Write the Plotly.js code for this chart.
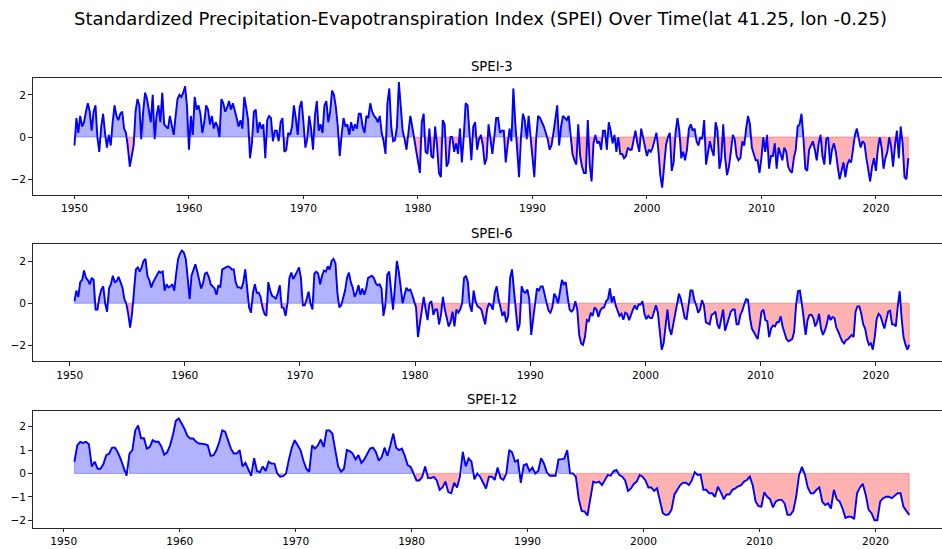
<!DOCTYPE html>
<html>
<head>
<meta charset="utf-8">
<script src="https://cdn.plot.ly/plotly-3.0.1.min.js"></script>
<style>
html,body{margin:0;padding:0;overflow:hidden;background:#fff;}
#chart{width:960px;height:549px;}
</style>
</head>
<body>
<div id="chart"></div>
<script>
// ---------------- DATA ----------------
// SPEI-3: one reading every 2 months, starting Jan 1950
const spei3Start = 1950 + 0 / 12;
const spei3StepMonths = 2;
const spei3 = [
  -0.4, 0.9, 0.2, 1.0, 0.5, 0.7,
  1.2, 1.6, 1.2, 0.3, 1.2, 1.5,
  0.0, -0.7, 0.5, 1.1, 0.2, -0.5,
  0.1, -0.4, 0.7, 1.5, 1.0, 0.8,
  1.1, 1.2, 0.4, 0.2, -0.5, -1.4,
  -0.9, -0.4, 1.2, 1.8, 1.5, -0.1,
  1.2, 2.1, 1.8, 1.3, 0.7, 2.0,
  -0.1, 1.0, 1.5, 0.7, 2.1, 0.6,
  0.5, 0.4, 1.0, 0.6, 0.1, 1.0,
  1.8, 2.0, 1.9, 2.1, 2.4, 1.4,
  -0.6, 1.0, 0.1, 1.9, 1.3, 1.5,
  1.1, 0.2, 0.7, 1.5, 1.3, 0.6,
  1.0, 0.4, 0.7, 0.5, 0.0, 1.8,
  1.6, 1.2, 1.4, 1.7, 1.3, 1.6,
  1.3, 0.9, 0.5, 0.8, 0.4, 1.9,
  1.4, 0.8, -1.0, -0.3, 1.2, 1.3,
  0.2, 0.7, 0.4, 0.6, -1.0, 0.8,
  1.0, 0.9, -0.2, 0.3, 0.3, -0.2,
  0.7, 0.9, -0.7, -0.6, 0.2, 0.1,
  0.5, 1.5, 0.9, 0.1, 1.4, 1.7,
  0.7, -0.5, -0.1, 1.0, 0.4, -0.6,
  1.0, 1.7, 0.3, 0.6, 0.2, 1.5,
  1.7, 0.7, 1.2, 2.2, 2.0, 1.4,
  0.5, -0.9, 0.1, 0.9, 0.5, 0.6,
  0.1, 0.7, 0.3, 0.6, 0.4, 1.1,
  1.1, 0.5, 0.2, 1.0, 0.9, 1.6,
  1.2, 1.0, 0.9, 0.7, 1.0, 0.2,
  -0.2, -0.8, 1.6, 2.3, 0.5, -0.2,
  -0.15, 0.5, 2.6, 1.4, 0.3, -0.1,
  -0.6, 0.2, 1.0, 0.5, -0.1, -0.7,
  -1.2, -1.7, 0.7, 1.1, -0.7, -0.8,
  0.4, -0.9, -1.0, 0.5, -0.4, -1.7,
  -1.9, 0.8, 0.6, -1.4, -1.2, 0.0,
  0.0, -0.7, -0.3, -0.8, 0.4, -1.2,
  0.0, 1.6, 1.5, 0.2, -1.1, 0.5,
  0.7, -0.6, -0.1, 0.1, -0.4, -1.3,
  -1.0, 0.6, -0.1, -0.8, 0.0, 0.9,
  0.9, 0.2, 0.3, 0.3, -1.2, -0.3,
  0.4, -0.2, 2.3, 0.7, -0.8, -1.9,
  0.0, 1.1, 0.8, -0.1, 1.0, -0.1,
  -0.8, -1.9, 0.0, 1.0, 0.9, 0.7,
  0.5, 0.2, -0.1, -0.6, -0.4, 0.2,
  0.8, 1.5, -0.4, 0.5, 1.0, 0.9,
  0.8, 1.0, -0.1, -0.8, -1.1, -1.3,
  0.6, -0.9, -1.4, -1.7, -1.7, 0.8,
  -1.3, -2.1, -0.3, 0.1, -0.3, -0.2,
  -0.6, 0.3, 0.3, -0.6, 0.7, 0.3,
  -0.3, 0.1, -0.7, 0.0, -0.8, -0.8,
  -1.0, -0.9, -0.5, -0.6, -0.6, -0.2,
  0.3, -0.3, -0.7, 0.4, -0.1, -0.4,
  -0.9, -0.6, -0.7, -0.5, -0.2, 0.2,
  -0.6, -1.8, -2.4, -1.3, -0.4, 0.0,
  0.2, -1.6, -1.2, 0.2, 0.9, 0.3,
  -1.0, -0.7, -1.1, -0.6, 0.4, 0.6,
  0.3, 0.4, -0.2, -0.4, 0.0, -0.1,
  0.8, -1.3, -0.8, -0.2, -0.6, -0.9,
  0.7, 0.3, -1.5, -1.0, 0.6, -1.0,
  -1.8, -1.4, -0.7, 0.1, -0.1, -0.9,
  -1.1, -1.0, -0.2, -0.4, 0.4, 1.0,
  0.6, -0.5, -0.8, -1.1, -1.1, -1.7,
  -1.0, 0.0, -0.7, 0.1, -1.5, -0.9,
  -0.9, -0.3, -1.5, -0.5, -0.8, -1.1,
  -0.5, -0.7, -1.4, -1.6, -1.7, -1.0,
  -0.6, 0.5, 0.6, 1.1, 0.0, -1.5,
  -1.6, -0.6, -0.4, -0.2, -0.6, -1.1,
  -0.3, 0.1, -0.9, -1.3, -0.1, 0.0,
  -1.3, -0.6, -0.3, -0.7, -1.4, -2.0,
  -1.6, -1.2, -1.9, -1.3, -1.1, -1.2,
  -0.6, 0.1, 0.4, 0.0, -0.5, -0.2,
  -0.3, -1.0, -1.5, -2.1, -1.4, -1.0,
  -1.6, -0.6, 0.0, -0.5, -1.5, -1.0,
  -0.7, 0.0, -0.5, -1.4, -0.4, 0.3,
  -1.0, 0.5, -0.3, -1.9, -2.0, -1.0
];

// SPEI-6: one reading every 2 months, starting Jun 1950
const spei6Start = 1950 + 5 / 12;
const spei6StepMonths = 2;
const spei6 = [
  0.1, 0.6, 0.3, 1.0,
  1.1, 1.55, 1.2, 1.1, 0.9, 1.2,
  1.1, -0.3, -0.3, 0.3, 0.65, 0.8,
  0.0, -0.4, 0.7, 0.9, 1.3, 1.0,
  1.05, 1.25, 1.0, 0.75, 0.2, 0.0,
  -0.5, -1.15, -0.5, 0.8, 1.6, 1.7,
  1.5, 1.7, 2.0, 2.1, 1.3, 1.1,
  0.75, 1.0, 1.15, 1.3, 1.5, 1.45,
  1.5, 0.6, 0.9, 0.75, 0.8, 0.9,
  0.6, 1.4, 2.1, 2.35, 2.5, 2.4,
  2.1, 1.2, 0.2, 1.3, 1.55, 1.85,
  1.5, 1.1, 0.7, 0.95, 1.4, 1.45,
  1.25, 0.9, 0.8, 0.7, 0.4, 0.85,
  0.75, 1.6, 1.65, 1.7, 1.75, 1.7,
  1.6, 1.6, 1.0, 0.75, 0.75, 0.7,
  1.0, 1.6, 0.75, -0.2, -0.45, 0.5,
  0.9, 0.5, 0.5, 0.3, -0.2, -0.5,
  -0.6, 1.0, 0.6, 0.35, 0.3, 0.2,
  0.5, 0.85, -0.2, -0.22, -0.6, 0.0,
  1.2, 1.45, 1.15, 1.3, 1.5, 1.7,
  1.2, -0.1, -0.1, 0.2, 0.55, 0.0,
  -0.3, 1.4, 1.5, 1.4, 0.9, 1.3,
  1.55, 1.5, 1.75, 1.6, 2.0, 2.1,
  1.9, 0.5, -0.2, -0.1, 0.2, 0.6,
  1.2, 1.45, 1.0, 0.75, 0.3, 0.5,
  0.85, 0.4, 0.7, 0.4, 0.7, 1.2,
  1.25, 1.3, 1.2, 0.95, 0.85, 0.9,
  0.7, -0.6, -0.1, 1.35, 1.5, 0.5,
  -0.3, 0.8, 2.0, 1.5, 0.8, 0.0,
  0.4, 0.73, 0.6, 0.65, 0.4, 0.1,
  -0.2, -1.6, -1.0, -0.2, 0.3, -0.3,
  -0.8, 0.0, 0.1, -0.55, -0.3, -0.3,
  -1.0, -0.55, 0.3, -0.3, -0.65, -1.1,
  -0.9, -0.4, -1.1, -0.3, -0.45, -0.3,
  0.0, 1.2, 1.3, 1.0, -0.1, -0.4,
  0.6, 0.1, -0.15, -0.2, -0.3, -0.7,
  -1.0, -0.3, 0.0, -0.1, -0.3, 0.5,
  0.8, 0.2, -0.3, -0.6, -0.4, -0.9,
  -0.6, 1.2, 1.6, 0.6, -0.2, -1.3,
  -1.0, 0.8, 0.55, 0.5, 0.65, 0.2,
  -1.5, -0.8, 0.0, 0.7, 0.6, 0.8,
  0.8, 0.4, 0.0, -0.35, -0.45, -0.2,
  0.45, 0.3, 0.0, 0.6, 1.1, 0.9,
  1.0, 0.3, -0.3, -0.4, -0.3, 0.1,
  -0.3, -1.5, -1.9, -1.97, -1.6, -0.8,
  -0.85, -0.45, -0.6, -0.2, -0.3, -0.65,
  -0.35, -0.22, -0.2, 0.1, 0.2, 0.7,
  0.05, 0.33, -0.1, -0.35, -0.6, -0.5,
  -0.78, -0.45, -0.5, -0.8, -0.5, -0.3,
  -0.1, -0.3, -0.05, -0.06, 0.1, -0.5,
  -0.75, -0.6, -0.7, -0.7, -0.4, -0.1,
  -0.45, -1.4, -2.2, -1.9, -1.2, -0.3,
  -1.2, -1.5, -1.0, -0.5, 0.0, 0.45,
  0.2, -0.35, -0.7, -0.75, 0.0, 0.6,
  0.6, 0.15, -0.1, -0.45, -0.3, 0.15,
  -0.1, -0.9, -0.95, -1.0, -0.55, -0.5,
  -0.4, -1.0, -1.2, -0.7, -0.3, -1.3,
  -1.0, -0.6, -0.4, -0.3, -0.3, -1.0,
  -1.0, -0.55, -0.35, -0.05, 0.2, 0.15,
  -0.7, -1.2, -1.35, -1.5, -1.7, -1.1,
  -0.4, -0.3, -0.8, -0.85, -1.6, -1.2,
  -1.05, -1.1, -0.9, -0.9, -0.62, -1.1,
  -1.4, -1.7, -1.8, -1.75, -1.7, -1.35,
  -0.1, 0.57, 0.6, 0.0, -0.9, -1.5,
  -0.8, -0.55, -0.54, -0.7, -1.1, -0.9,
  -0.5, -1.2, -1.5, -1.3, -1.0, -0.55,
  -0.8, -0.65, -0.7, -1.15, -1.35, -1.6,
  -1.8, -1.9, -1.75, -1.7, -1.6, -1.5,
  -1.6, -0.4, -0.15, -0.15, -0.5, -1.0,
  -1.2, -1.7, -1.97, -1.9, -2.2, -1.6,
  -0.75, -0.5, -0.6, -0.9, -1.2, -0.8,
  -0.4, -0.35, -1.0, -1.0, -1.1, -0.15,
  0.57, -0.7, -1.6, -1.95, -2.2, -1.97
];

// SPEI-12: one reading every 3 months, starting Dec 1950
const spei12Start = 1950 + 11 / 12;
const spei12StepMonths = 3;
const spei12 = [
  0.5,
  1.2, 1.35, 1.3, 1.35,
  1.25, 0.3, 0.5, 0.2,
  0.2, 0.4, 0.78, 0.85,
  1.1, 1.1, 0.9, 0.6,
  0.2, -0.1, 0.85, 1.0,
  1.84, 2.05, 1.5, 1.5,
  1.06, 1.13, 1.42, 1.35,
  1.35, 1.15, 0.8, 0.9,
  1.2, 1.65, 2.25, 2.35,
  2.13, 1.9, 1.6, 1.49,
  1.49, 1.35, 1.28, 1.28,
  1.25, 1.2, 0.75, 0.78,
  1.0, 1.35, 1.84, 1.78,
  1.4, 1.06, 0.85, 0.85,
  1.0, 0.3, 0.45, 0.15,
  -0.1, 0.65, 0.1, 0.05,
  0.3, 0.1, 0.5, 0.42,
  0.42, 0.0, -0.14, -0.12,
  0.0, 0.6, 1.1, 1.42,
  1.2, 1.0, 0.55, 0.2,
  0.07, 1.2, 1.06, 1.2,
  1.45, 1.13, 1.84, 1.84,
  1.7, 1.0, 0.3, 0.07,
  0.2, 1.0, 0.95, 0.85,
  0.6, 0.78, 0.45, 0.6,
  0.85, 1.06, 1.1, 0.92,
  0.55, 0.7, 1.1, 0.75,
  1.2, 1.7, 1.1, 1.0,
  1.06, 0.75, 0.35, 0.28,
  0.0, -0.3, -0.3, -0.15,
  0.3, -0.2, -0.2, -0.15,
  -0.3, -0.7, -0.6, -0.35,
  -0.8, -0.85, -0.4, -0.6,
  -0.14, 0.92, 0.3, 0.64,
  0.5, -0.25, 0.0, -0.15,
  -0.4, -0.65, -0.14, -0.14,
  -0.28, 0.25, -0.2, -0.28,
  0.0, 1.0, 0.9, 0.5,
  0.57, -0.4, 0.35, 0.4,
  0.1, 0.25, 0.0, 0.1,
  0.65, 0.42, 0.05, -0.1,
  -0.1, -0.1, 0.6, 0.6,
  0.64, 1.0, 0.0, 0.0,
  -0.15, -1.1, -1.6, -1.63,
  -1.8, -1.05, -0.35, -0.4,
  -0.35, -0.5, -0.28, -0.07,
  -0.1, 0.1, 0.15, -0.07,
  -0.14, -0.3, -0.75, -0.64,
  -0.45, -0.35, -0.07, -0.14,
  -0.3, -0.6, -0.6, -0.75,
  -0.64, -1.15, -1.7, -1.78,
  -1.75, -1.55, -0.9, -0.7,
  -0.5, -0.4, -0.4, -0.5,
  -0.3, 0.05, -0.07, -0.05,
  -0.7, -0.7, -0.85, -0.85,
  -1.0, -0.57, -0.8, -1.1,
  -0.9, -0.9, -0.7, -0.64,
  -0.55, -0.5, -0.35, -0.28,
  -0.14, -0.5, -1.2, -1.4,
  -1.42, -0.8, -1.0, -1.1,
  -1.45, -1.2, -1.13, -1.13,
  -1.28, -1.77, -1.77, -1.6,
  -1.0, -0.07, 0.28, -0.05,
  -0.6, -0.85, -0.85, -0.7,
  -0.6, -1.2, -1.35, -1.28,
  -1.5, -0.7, -1.1, -1.2,
  -1.5, -1.9, -1.85, -1.85,
  -1.95, -0.85, -0.6, -0.45,
  -0.92, -1.56, -1.7, -2.0,
  -2.0, -1.2, -1.06, -1.0,
  -1.0, -1.06, -0.95, -0.85,
  -0.85, -1.42, -1.6, -1.77
];

const panelTitles = ['SPEI-3', 'SPEI-6', 'SPEI-12'];
const xTickYears = [1950, 1960, 1970, 1980, 1990, 2000, 2010, 2020];
const yTicksPanel12 = [-2, 0, 2];
const yTicksPanel3 = [-2, -1, 0, 1, 2];
const mainTitle = 'Standardized Precipitation-Evapotranspiration Index (SPEI) Over Time(lat 41.25, lon -0.25)';

// ---------------- BUILD ----------------
function timeAxis(start, stepMonths, n) {
  const t = [];
  for (let i = 0; i < n; i++) t.push(start + i * stepMonths / 12);
  return t;
}

// polygons like matplotlib fill_between(where=...): one closed shape per contiguous run
function runPolygons(t, v, test) {
  const xs = [], ys = [];
  let i = 0;
  while (i < v.length) {
    if (!test(v[i])) { i++; continue; }
    let j = i;
    while (j + 1 < v.length && test(v[j + 1])) j++;
    xs.push(t[i]); ys.push(0);
    for (let k = i; k <= j; k++) { xs.push(t[k]); ys.push(v[k]); }
    xs.push(t[j]); ys.push(0);
    xs.push(t[i]); ys.push(0);
    xs.push(null); ys.push(null);
    i = j + 1;
  }
  return { xs, ys };
}

const W = 960, H = 549;
const axLeft = 32.7 / W, axRight = 951 / W;
function yDom(top, bottom) { return [1 - bottom / H, 1 - top / H]; }

const panels = [
  { v: spei3, start: spei3Start, step: spei3StepMonths, xr: [1946.35, 2026.56], yr: [-2.73, 2.81], dom: yDom(77.7, 194.7), yt: yTicksPanel12, titleY: 66 },
  { v: spei6, start: spei6Start, step: spei6StepMonths, xr: [1946.79, 2026.54], yr: [-2.75, 2.82], dom: yDom(243.7, 361.3), yt: yTicksPanel12, titleY: 233 },
  { v: spei12, start: spei12Start, step: spei12StepMonths, xr: [1947.32, 2026.52], yr: [-2.32, 2.68], dom: yDom(410.7, 527.7), yt: yTicksPanel3, titleY: 399 }
];

const tickFont = { family: 'DejaVu Sans, sans-serif', size: 10.6, color: '#000' };
const axisBase = {
  showline: true, mirror: true, linecolor: '#000', linewidth: 0.85,
  ticks: 'outside', ticklen: 3.7, tickwidth: 0.85, tickcolor: '#000',
  showgrid: false, zeroline: false, tickfont: tickFont, fixedrange: true
};

const traces = [];
const layout = {
  width: W, height: H,
  margin: { l: 0, r: 0, t: 0, b: 0, pad: 0 },
  paper_bgcolor: '#fff', plot_bgcolor: '#fff',
  showlegend: false,
  annotations: [{
    text: mainTitle, xref: 'paper', yref: 'paper', x: 480 / W, y: 1 - 18 / H,
    xanchor: 'center', yanchor: 'middle', showarrow: false,
    font: { family: 'DejaVu Sans, sans-serif', size: 18, color: '#000' }
  }]
};

panels.forEach((p, idx) => {
  const n = idx + 1;
  const xa = n === 1 ? 'x' : 'x' + n;
  const ya = n === 1 ? 'y' : 'y' + n;
  const t = timeAxis(p.start, p.step, p.v.length);
  const pos = runPolygons(t, p.v, d => d >= 0);
  const neg = runPolygons(t, p.v, d => d < 0);
  traces.push({
    x: pos.xs, y: pos.ys, xaxis: xa, yaxis: ya, type: 'scatter', mode: 'lines',
    fill: 'toself', fillcolor: 'rgba(0,0,255,0.3)',
    line: { color: 'rgba(0,0,255,0.3)', width: 1 }, connectgaps: false, hoverinfo: 'skip'
  });
  traces.push({
    x: neg.xs, y: neg.ys, xaxis: xa, yaxis: ya, type: 'scatter', mode: 'lines',
    fill: 'toself', fillcolor: 'rgba(255,0,0,0.3)',
    line: { color: 'rgba(255,0,0,0.3)', width: 1 }, connectgaps: false, hoverinfo: 'skip'
  });
  traces.push({
    x: t, y: p.v, xaxis: xa, yaxis: ya, type: 'scatter', mode: 'lines',
    line: { color: '#0000ff', width: 1.9 }, name: panelTitles[idx]
  });

  layout['xaxis' + (n === 1 ? '' : n)] = Object.assign({}, axisBase, {
    domain: [axLeft, axRight], range: p.xr, anchor: ya,
    tickmode: 'array', tickvals: xTickYears, ticktext: xTickYears.map(String)
  });
  layout['yaxis' + (n === 1 ? '' : n)] = Object.assign({}, axisBase, {
    domain: p.dom, range: p.yr, anchor: xa,
    tickmode: 'array', tickvals: p.yt
  });
  layout.annotations.push({
    text: panelTitles[idx], xref: 'paper', yref: 'paper',
    x: (axLeft + axRight) / 2, y: 1 - p.titleY / H,
    xanchor: 'center', yanchor: 'middle', showarrow: false,
    font: { family: 'DejaVu Sans, sans-serif', size: 13.2, color: '#000' }
  });
});

Plotly.newPlot('chart', traces, layout, { displayModeBar: false, staticPlot: true });
</script>
</body>
</html>
